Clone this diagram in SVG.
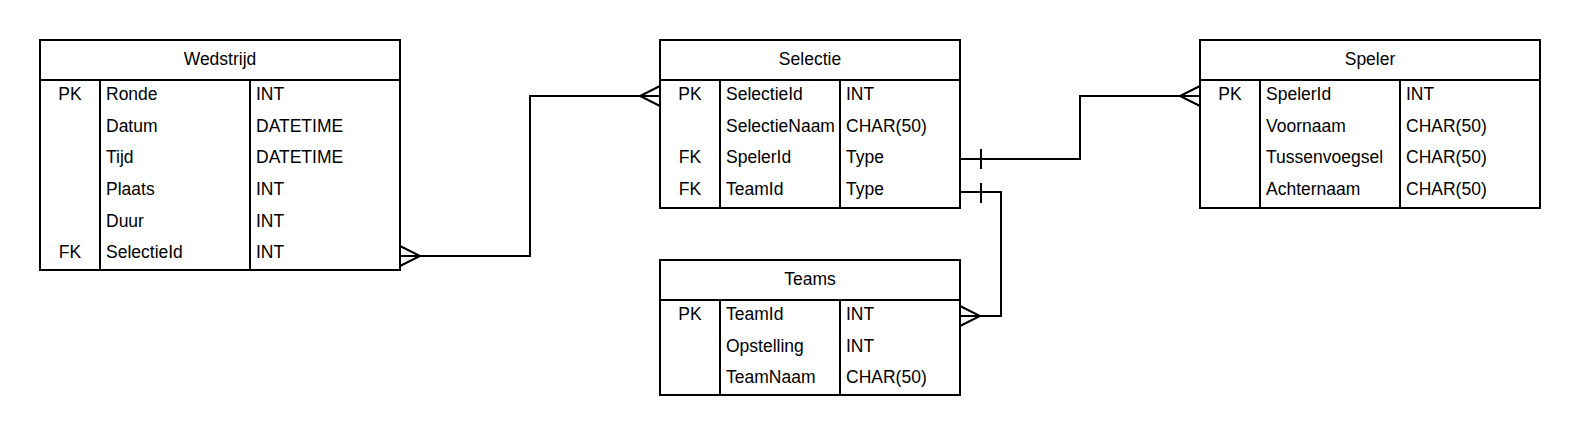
<svg xmlns="http://www.w3.org/2000/svg" width="1580" height="436" viewBox="0 0 1580 436">
<style>
.box{fill:#fff;stroke:#000;stroke-width:2}
.ln{fill:none;stroke:#000;stroke-width:2}
text{font-family:"Liberation Sans",Arial,sans-serif;font-size:17.5px;fill:#000}
.c{text-anchor:middle}
</style>
<rect width="1580" height="436" fill="#fff"/>
<g id="connectors">
<path class="ln" d="M400,256 H530 V96 H660"/>
<path class="ln" d="M400,246 L420,256 L400,266"/>
<path class="ln" d="M660,86 L640,96 L660,106"/>
<path class="ln" d="M960,159 H1080 V96 H1200"/>
<path class="ln" d="M981,149 V169"/>
<path class="ln" d="M1200,86 L1180,96 L1200,106"/>
<path class="ln" d="M960,192 H1001 V316 H960"/>
<path class="ln" d="M981,183 V203"/>
<path class="ln" d="M960,306 L980,316 L960,326"/>
</g>
<g id="wedstrijd">
<rect class="box" x="40" y="40" width="360" height="230"/>
<path class="ln" d="M40,80 H400 M100,80 V270 M250,80 V270"/>
<text class="c" x="220" y="65">Wedstrijd</text>
<text class="c" x="70" y="100">PK</text><text x="106" y="100">Ronde</text><text x="256" y="100">INT</text>
<text x="106" y="131.7">Datum</text><text x="256" y="131.7">DATETIME</text>
<text x="106" y="163.3">Tijd</text><text x="256" y="163.3">DATETIME</text>
<text x="106" y="195">Plaats</text><text x="256" y="195">INT</text>
<text x="106" y="226.7">Duur</text><text x="256" y="226.7">INT</text>
<text class="c" x="70" y="258.3">FK</text><text x="106" y="258.3">SelectieId</text><text x="256" y="258.3">INT</text>
</g>
<g id="selectie">
<rect class="box" x="660" y="40" width="300" height="168"/>
<path class="ln" d="M660,80 H960 M720,80 V208 M840,80 V208"/>
<text class="c" x="810" y="65">Selectie</text>
<text class="c" x="690" y="100">PK</text><text x="726" y="100">SelectieId</text><text x="846" y="100">INT</text>
<text x="726" y="131.7">SelectieNaam</text><text x="846" y="131.7">CHAR(50)</text>
<text class="c" x="690" y="163.3">FK</text><text x="726" y="163.3">SpelerId</text><text x="846" y="163.3">Type</text>
<text class="c" x="690" y="195">FK</text><text x="726" y="195">TeamId</text><text x="846" y="195">Type</text>
</g>
<g id="teams">
<rect class="box" x="660" y="260" width="300" height="135"/>
<path class="ln" d="M660,300 H960 M720,300 V395 M840,300 V395"/>
<text class="c" x="810" y="285">Teams</text>
<text class="c" x="690" y="320">PK</text><text x="726" y="320">TeamId</text><text x="846" y="320">INT</text>
<text x="726" y="351.7">Opstelling</text><text x="846" y="351.7">INT</text>
<text x="726" y="383.3">TeamNaam</text><text x="846" y="383.3">CHAR(50)</text>
</g>
<g id="speler">
<rect class="box" x="1200" y="40" width="340" height="168"/>
<path class="ln" d="M1200,80 H1540 M1260,80 V208 M1400,80 V208"/>
<text class="c" x="1370" y="65">Speler</text>
<text class="c" x="1230" y="100">PK</text><text x="1266" y="100">SpelerId</text><text x="1406" y="100">INT</text>
<text x="1266" y="131.7">Voornaam</text><text x="1406" y="131.7">CHAR(50)</text>
<text x="1266" y="163.3">Tussenvoegsel</text><text x="1406" y="163.3">CHAR(50)</text>
<text x="1266" y="195">Achternaam</text><text x="1406" y="195">CHAR(50)</text>
</g>
</svg>
